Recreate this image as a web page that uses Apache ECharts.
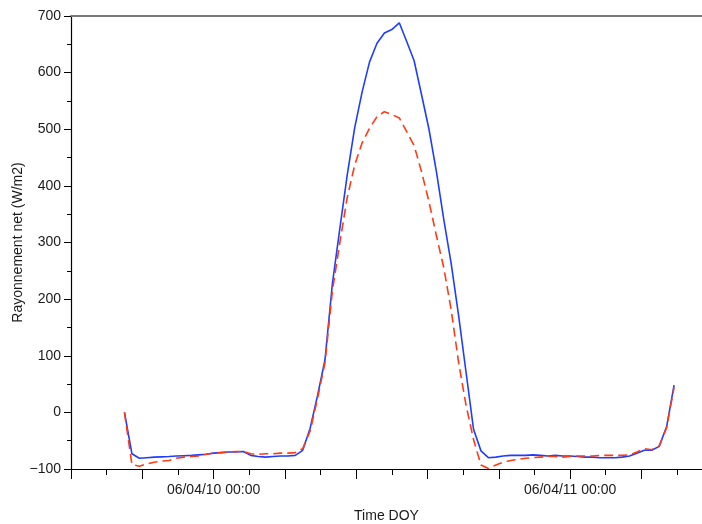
<!DOCTYPE html>
<html>
<head>
<meta charset="utf-8">
<script src="https://cdn.jsdelivr.net/npm/echarts@6/dist/echarts.min.js"></script>
<style>
  html, body { margin: 0; padding: 0; background: #fff; }
  #chart { width: 702px; height: 524px; }
</style>
</head>
<body>
<div id="chart"></div>
<script>
// Half-hourly samples, starting 2006-04-09 18:00 (DOY-style day number 9.75)
const startDay = 9.75;
const stepDay = 1 / 48;

// Net radiation, sensor 1 (W/m2)
const netRad1 = [
  0, -73, -81, -80, -79, -78.5, -78, -77, -76.5, -76,
  -75, -74, -72, -71, -70, -70, -69, -76, -78, -79,
  -78, -77, -77, -76, -67, -28, 30, 93, 228, 325,
  420, 503, 566, 619, 652, 670, 676, 688, 655, 621,
  561, 500, 425, 340, 262, 170, 70, -30, -68, -80,
  -79, -77, -76, -76, -76, -75, -76, -77, -76, -77,
  -77, -78, -79, -79, -80, -80, -80, -79, -77, -72,
  -67, -67, -60, -25, 48
];

// Net radiation, sensor 2 (W/m2)
const netRad2 = [
  0, -92, -95, -91, -88, -86, -85, -81, -79, -78,
  -77, -74, -72, -71, -70, -69, -69, -73, -74, -73,
  -73, -72, -72, -71, -64, -33, 25, 88, 215, 300,
  380, 437, 476, 502, 522, 531, 526, 520, 496, 471,
  425, 372, 312, 255, 180, 87, 12, -48, -93, -99,
  -93, -88, -85, -83, -81, -80, -79, -78, -78, -79,
  -78, -77, -77, -77, -76, -76, -76, -76, -75, -70,
  -64, -66, -59, -27, 44
];

const dayLabelPrefix = '06/04/';
const dayLabelSuffix = ' 00:00';

const xMin = 9.6;
const xMax = 11.37;
const yMin = -100;
const yMax = 700;

function toPairs(values) {
  return values.map((v, i) => [startDay + i * stepDay, v]);
}

const font = '"Liberation Sans", Arial, Helvetica, sans-serif';
const textColor = '#1a1a1a';

const chart = echarts.init(document.getElementById('chart'), null, { renderer: 'canvas' });

chart.setOption({
  animation: false,
  backgroundColor: '#ffffff',
  grid: {
    left: 71, top: 16, right: 0, bottom: 55,
    containLabel: false,
    outerBoundsMode: 'none'
  },
  xAxis: [
    {
      type: 'value',
      position: 'bottom',
      min: xMin,
      max: xMax,
      interval: 0.2,
      name: 'Time DOY',
      nameLocation: 'middle',
      nameGap: 40,
      nameMoveOverlap: false,
      nameTextStyle: { fontFamily: font, fontSize: 14, color: textColor },
      axisLine: { show: true, onZero: false, lineStyle: { color: '#000', width: 1.2 } },
      axisTick: { show: true, inside: false, length: 10, lineStyle: { color: '#000', width: 1 } },
      minorTick: { show: true, splitNumber: 2, length: 6, lineStyle: { color: '#000', width: 1 } },
      splitLine: { show: false },
      minorSplitLine: { show: false },
      axisLabel: {
        margin: 14,
        fontFamily: font,
        fontSize: 14,
        color: textColor,
        showMinLabel: true,
        showMaxLabel: false,
        formatter: function (v) {
          const r = Math.round(v);
          if (Math.abs(v - r) < 1e-6) {
            return dayLabelPrefix + String(r).padStart(2, '0') + dayLabelSuffix;
          }
          return '';
        }
      }
    },
    {
      type: 'value',
      position: 'top',
      min: xMin,
      max: xMax,
      axisLine: { show: true, onZero: false, lineStyle: { color: '#777', width: 2 } },
      axisTick: { show: false },
      axisLabel: { show: false },
      splitLine: { show: false }
    }
  ],
  yAxis: {
    type: 'value',
    min: yMin,
    max: yMax,
    interval: 100,
    name: 'Rayonnement net (W/m2)',
    nameLocation: 'middle',
    nameGap: 46,
    nameMoveOverlap: false,
    nameRotate: 90,
    nameTextStyle: { fontFamily: font, fontSize: 14, color: textColor },
    axisLine: { show: true, onZero: false, lineStyle: { color: '#000', width: 1.2 } },
    axisTick: { show: true, length: 7, lineStyle: { color: '#000', width: 1 } },
    minorTick: { show: true, splitNumber: 2, length: 4, lineStyle: { color: '#000', width: 1 } },
    splitLine: { show: false },
    minorSplitLine: { show: false },
    axisLabel: {
      margin: 10,
      fontFamily: font,
      fontSize: 14,
      color: textColor,
      formatter: function (v) { return String(v).replace('-', '\u2212'); }
    }
  },
  series: [
    {
      name: 'Rn 1',
      type: 'line',
      xAxisIndex: 0,
      data: toPairs(netRad1),
      showSymbol: false,
      symbol: 'none',
      smooth: false,
      lineStyle: { color: '#1f3dff', width: 1.6 },
      z: 3
    },
    {
      name: 'Rn 2',
      type: 'line',
      xAxisIndex: 0,
      data: toPairs(netRad2),
      showSymbol: false,
      symbol: 'none',
      smooth: false,
      lineStyle: { color: '#ff3b14', width: 1.6, type: [9, 5] },
      z: 4
    }
  ]
});
</script>
</body>
</html>
